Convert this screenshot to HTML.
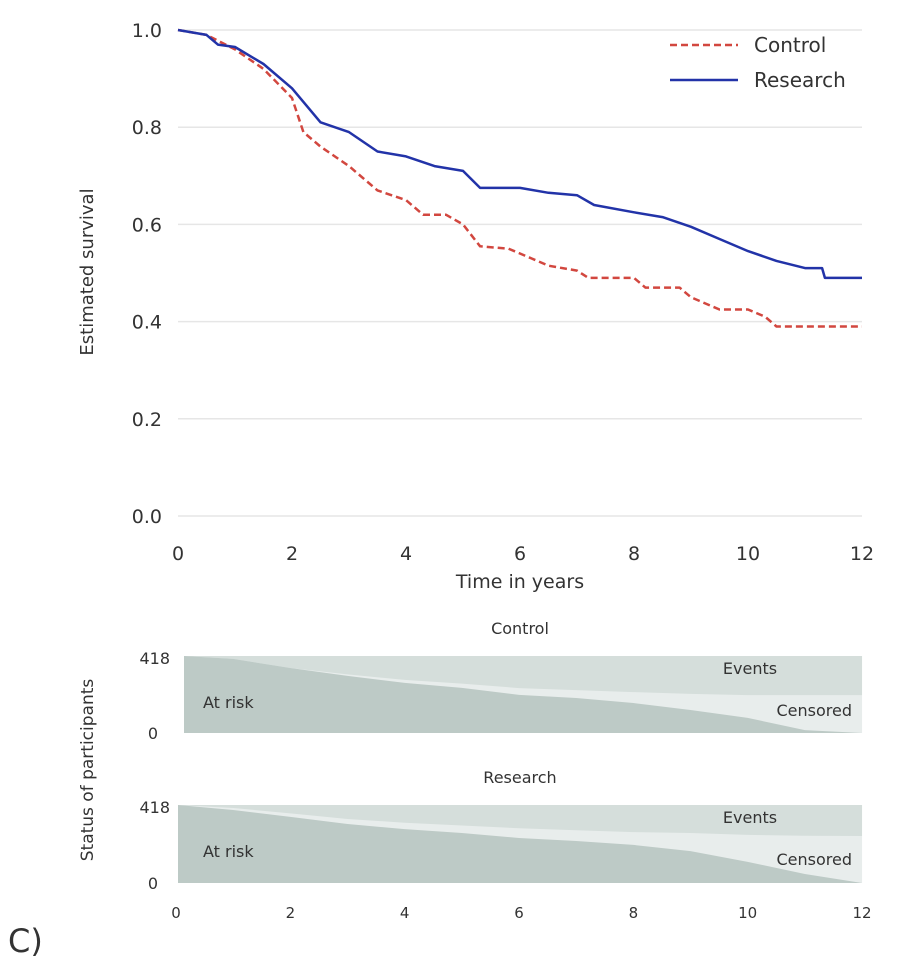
<!DOCTYPE html>
<html><head><meta charset="utf-8"><style>
body{margin:0;background:#fff;font-family:"Liberation Sans","DejaVu Sans",sans-serif}
svg text{font-family:"DejaVu Sans","Liberation Sans",sans-serif;fill:#333}
</style></head><body>
<svg id="c" width="916" height="966" viewBox="0 0 916 966" xmlns="http://www.w3.org/2000/svg"></svg>
<script>
const kmCtrlT=[0,0.5,1,1.5,2,2.2,2.5,3,3.5,4,4.3,4.7,5,5.3,5.8,6.2,6.5,7,7.2,8,8.2,8.8,9,9.5,10,10.3,10.5,12];
const kmCtrlS=[1,0.99,0.96,0.92,0.86,0.79,0.76,0.72,0.67,0.65,0.62,0.62,0.60,0.555,0.55,0.53,0.515,0.505,0.49,0.49,0.47,0.47,0.45,0.425,0.425,0.41,0.39,0.39];
const kmResT=[0,0.5,0.7,1,1.5,2,2.5,3,3.5,4,4.5,5,5.3,6,6.5,7,7.3,8,8.5,9,9.5,10,10.5,11,11.3,11.35,12];
const kmResS=[1,0.99,0.97,0.965,0.93,0.88,0.81,0.79,0.75,0.74,0.72,0.71,0.675,0.675,0.665,0.66,0.64,0.625,0.615,0.595,0.57,0.545,0.525,0.51,0.51,0.49,0.49];
const yTicks=["0.0","0.2","0.4","0.6","0.8","1.0"];
const xTicks=[0,2,4,6,8,10,12];
const strYears=[0,1,2,3,4,5,6,7,8,9,10,11,12];
const ctrlAtRisk=[418,402,353,310,272,245,207,190,163,125,82,16,0];
const ctrlEvents=[0,16,65,100,130,150,174,185,196,206,212,212,212];
const resAtRisk=[418,391,354,316,289,268,241,225,204,171,113,48,0];
const resEvents=[0,16,45,75,95,110,125,135,145,150,160,165,166];
const TOTAL=418;

const svg=document.getElementById('c');const NS='http://www.w3.org/2000/svg';
function mk(tag,attrs,parent){const e=document.createElementNS(NS,tag);for(const k in attrs)e.setAttribute(k,attrs[k]);(parent||svg).appendChild(e);return e;}
const X=t=>178+t*57, Y=s=>516-s*486;
yTicks.forEach(l=>{const v=+l;
 const g=mk('line',{x1:178,x2:862,y1:Y(v),y2:Y(v),stroke:'#e6e6e6','stroke-width':1.5});
 
 const t=mk('text',{x:162,y:Y(v)+7,'text-anchor':'end','font-size':19});t.textContent=l;
 });
xTicks.forEach(v=>{const t=mk('text',{x:X(v),y:560,'text-anchor':'middle','font-size':19});t.textContent=v;
 });
let t=mk('text',{x:520,y:588,'text-anchor':'middle','font-size':19});t.textContent='Time in years';

t=mk('text',{x:0,y:0,'text-anchor':'middle','font-size':18,transform:'translate(93,272) rotate(-90)'});t.textContent='Estimated survival';

function line(T,S,attrs,name){const p=T.map((v,i)=>X(v).toFixed(1)+','+Y(S[i]).toFixed(1)).join(' ');
 const e=mk('polyline',Object.assign({points:p,fill:'none','stroke-linejoin':'round'},attrs));}
line(kmCtrlT,kmCtrlS,{stroke:'#d2473f','stroke-width':2.5,'stroke-dasharray':'7,4'},'control-line');
line(kmResT,kmResS,{stroke:'#2233a8','stroke-width':2.5},'research-line');
let l=mk('line',{x1:670,x2:738,y1:45,y2:45,stroke:'#d2473f','stroke-width':2.5,'stroke-dasharray':'7,4'});

t=mk('text',{x:754,y:52,'font-size':20});t.textContent='Control';
l=mk('line',{x1:670,x2:738,y1:80,y2:80,stroke:'#2233a8','stroke-width':2.5});

t=mk('text',{x:754,y:87,'font-size':20});t.textContent='Research';
const SX=t=>176+t*57.17;
function strip(top,bot,x0,atRisk,events,title,name){
 const h=bot-top,Yc=c=>bot-c/TOTAL*h;
 const bg=mk('rect',{x:SX(0)+x0,y:top,width:SX(12)-SX(0)-x0,height:h,fill:'#e8edec'});
 
 let p=strYears.map((v,i)=>SX(v)+(i==0?x0:0)+','+Yc(TOTAL-events[i]).toFixed(1));
 let e=mk('polygon',{points:[SX(0)+x0+','+top,...p,SX(12)+','+top].join(' '),fill:'#d5dedb'});
 
 p=strYears.map((v,i)=>SX(v)+(i==0?x0:0)+','+Yc(atRisk[i]).toFixed(1));
 e=mk('polygon',{points:[SX(0)+x0+','+bot,...p,SX(12)+','+bot].join(' '),fill:'#bdcac6'});
 
 const lbl=(s,x,y,a,n)=>{const q=mk('text',{x:x,y:y,'font-size':16,'text-anchor':a||'start'});q.textContent=s;};
 lbl('At risk',203,top+52,'start',name+'-at-risk-label');
 lbl('Events',750,top+18,'middle',name+'-events-label');
 lbl('Censored',852,top+60,'end',name+'-censored-label');
 lbl(title,520,top-22,'middle',name+'-title');
 lbl('418',170,top+8,'end',name+'-y-max');
 lbl('0',158,bot+6,'end',name+'-y-min');
}
strip(656,733,8,ctrlAtRisk,ctrlEvents,'Control','control-strip');
strip(805,883,2,resAtRisk,resEvents,'Research','research-strip');
xTicks.forEach(v=>{const q=mk('text',{x:SX(v),y:918,'text-anchor':'middle','font-size':15});q.textContent=v;
 });
t=mk('text',{x:0,y:0,'text-anchor':'middle','font-size':17,transform:'translate(93,770) rotate(-90)'});t.textContent='Status of participants';

t=mk('text',{x:8,y:952,'font-size':32});t.textContent='C)';
</script>
</body></html>
